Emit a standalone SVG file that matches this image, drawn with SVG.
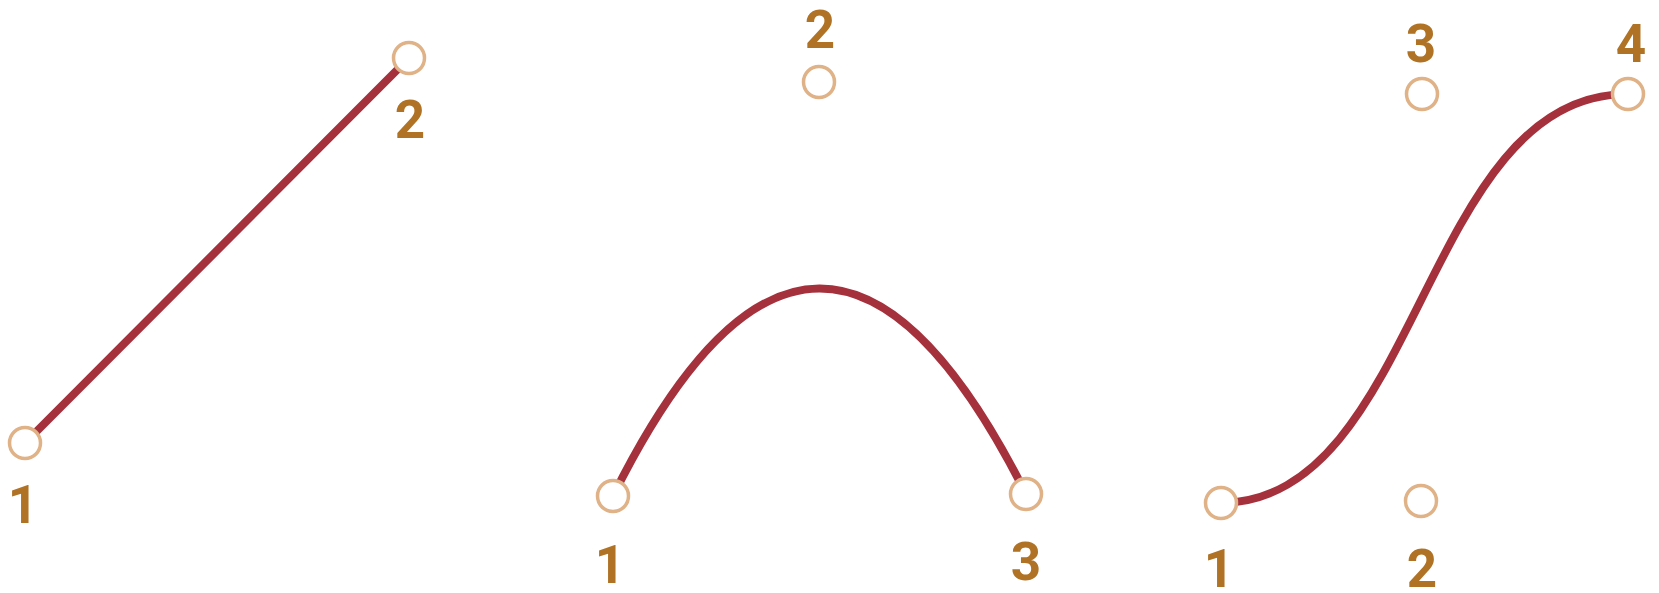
<svg xmlns="http://www.w3.org/2000/svg" width="1659" height="593" viewBox="0 0 1659 593">
<style>
.curve{fill:none;stroke:#a5313c;stroke-width:8;stroke-linecap:round}
.pt{fill:#fff;stroke:#e0b287;stroke-width:3.5}
.lbl{font-family:Roboto,sans-serif;font-weight:bold;font-size:53px;fill:#b07225;text-anchor:middle}
</style>
<rect width="1659" height="593" fill="#fff"/>
<g id="connectors">
<path class="curve" d="M25,443 L409,58"/>
<path class="curve" d="M613,496 Q819,82 1026,494"/>
<path class="curve" d="M1221,503 C1421,501 1422,94 1628,94"/>
</g>
<g id="line-p1"><circle class="pt" cx="25" cy="443" r="15.5"/><text class="lbl" x="23" y="523">1</text></g>
<g id="line-p2"><circle class="pt" cx="409" cy="58" r="15.5"/><text class="lbl" x="410" y="138">2</text></g>
<g id="quad-p1"><circle class="pt" cx="613" cy="496" r="15.5"/><text class="lbl" x="610" y="583">1</text></g>
<g id="quad-p2"><circle class="pt" cx="819" cy="82" r="15.5"/><text class="lbl" x="820" y="48">2</text></g>
<g id="quad-p3"><circle class="pt" cx="1026" cy="494" r="15.5"/><text class="lbl" x="1026" y="580">3</text></g>
<g id="cubic-p1"><circle class="pt" cx="1221" cy="503" r="15.5"/><text class="lbl" x="1219" y="587">1</text></g>
<g id="cubic-p2"><circle class="pt" cx="1421" cy="501" r="15.5"/><text class="lbl" x="1422" y="587">2</text></g>
<g id="cubic-p3"><circle class="pt" cx="1422" cy="94" r="15.5"/><text class="lbl" x="1421" y="62">3</text></g>
<g id="cubic-p4"><circle class="pt" cx="1628" cy="94" r="15.5"/><text class="lbl" x="1631" y="62">4</text></g>
</svg>
